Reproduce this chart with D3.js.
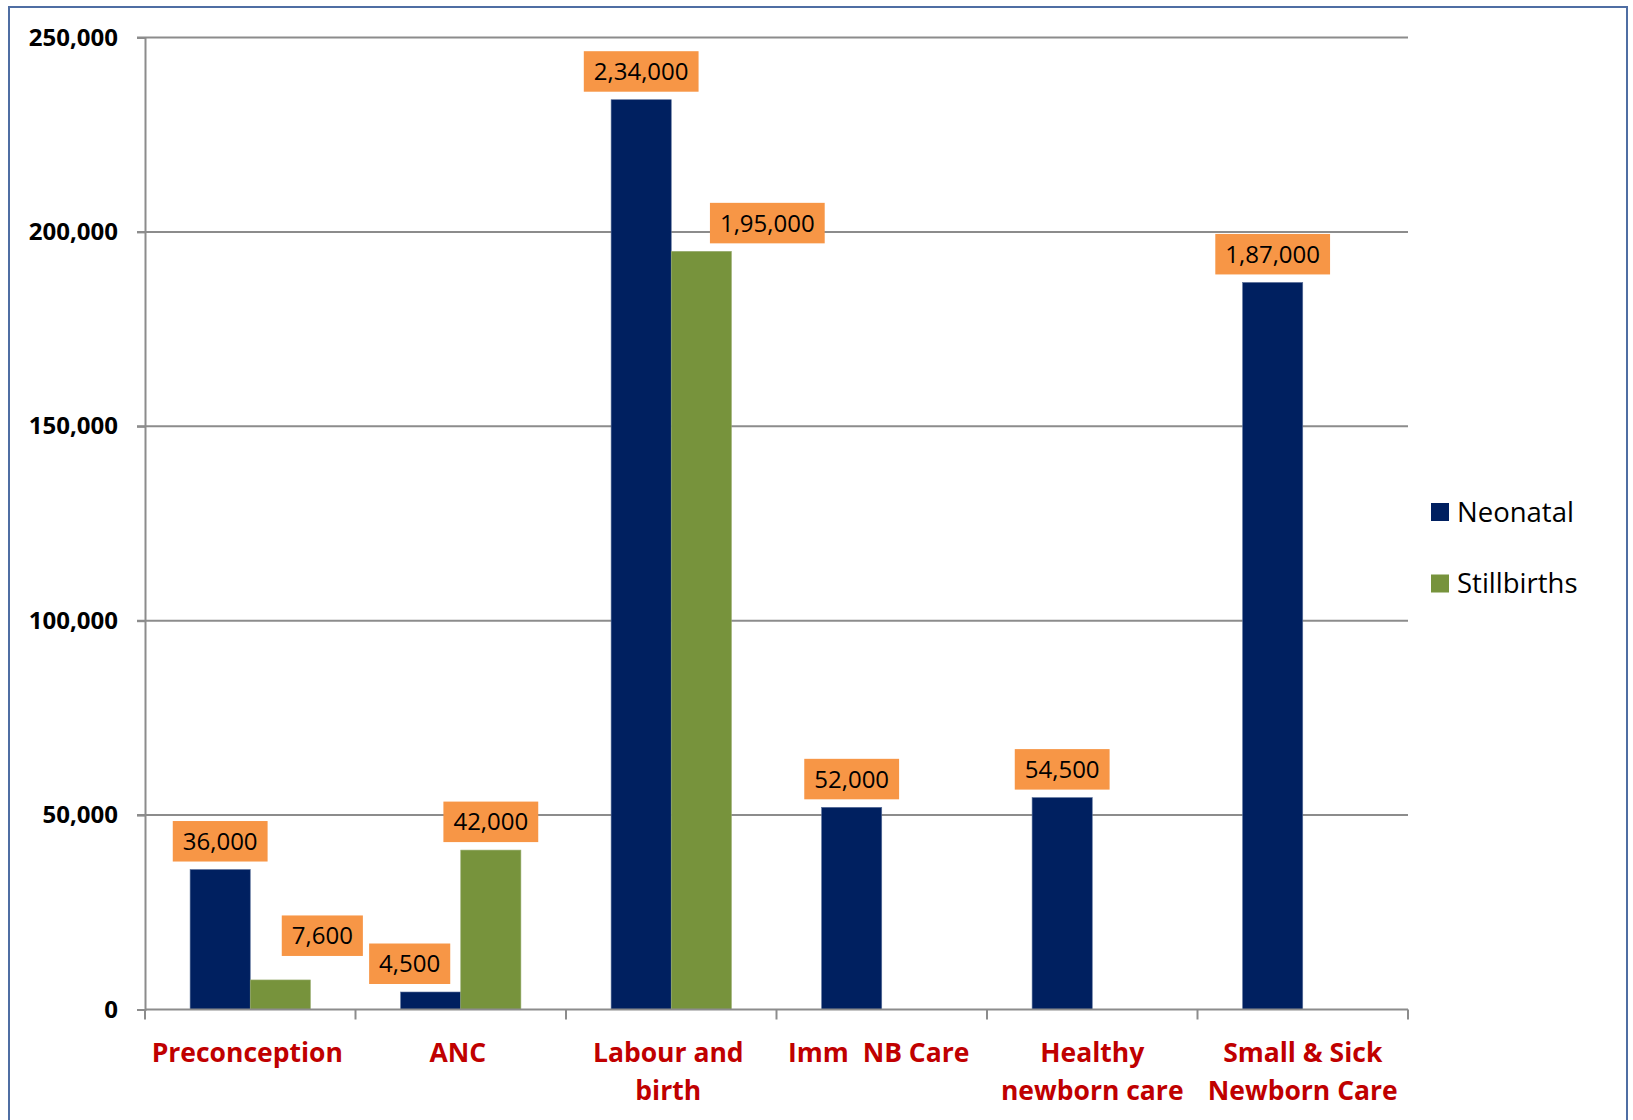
<!DOCTYPE html>
<html>
<head>
<meta charset="utf-8">
<script src="https://cdn.jsdelivr.net/npm/d3@7"></script>
<style>
  html, body { margin: 0; padding: 0; background: #fff; }
  svg { display: block; }
  text { font-family: "Open Sans", "Noto Sans", sans-serif; }
</style>
</head>
<body>
<svg id="chart" width="1633" height="1120"></svg>
<script>
// ---- data ----
const categories = ["Preconception", "ANC", "Labour and birth", "Imm  NB Care", "Healthy newborn care", "Small & Sick Newborn Care"];
const categoryLines = [["Preconception"], ["ANC"], ["Labour and", "birth"], ["Imm  NB Care"], ["Healthy", "newborn care"], ["Small & Sick", "Newborn Care"]];
const seriesNames = ["Neonatal", "Stillbirths"];
const neonatal = [36000, 4500, 234000, 52000, 54500, 187000];
const stillbirths = [7600, 41000, 195000, null, null, null];
const neonatalLabels = ["36,000", "4,500", "2,34,000", "52,000", "54,500", "1,87,000"];
const stillbirthLabels = ["7,600", "42,000", "1,95,000", null, null, null];
const yTicks = [0, 50000, 100000, 150000, 200000, 250000];
// manual nudges of the label boxes (px), as in the original
const neonatalLabelNudge = [[0, 0], [-21, 0], [0, 0], [0, 0], [0, 0], [0, 0]];
const stillbirthLabelNudge = [[42, -16], [0, 0], [66, 0], [0, 0], [0, 0], [0, 0]];

const colors = { Neonatal: "#002060", Stillbirths: "#77933C" };

const svg = d3.select("#chart");

// outer border
svg.append("rect").attr("x", 9).attr("y", 7).attr("width", 1618).attr("height", 1130)
  .attr("fill", "none").attr("stroke", "#4F6EA3").attr("stroke-width", 2);

const plot = { left: 145, right: 1408, top: 37.5, bottom: 1009.5 };

const x = d3.scaleBand().domain(categories).range([plot.left, plot.right]).paddingInner(0).paddingOuter(0);
const x1 = d3.scaleBand().domain(seriesNames).range([0, x.bandwidth()]).paddingInner(0).paddingOuter(0.75);
const y = d3.scaleLinear().domain([0, 250000]).range([plot.bottom, plot.top]);

const gridColor = "#8C8C8C";

// gridlines
svg.append("g").selectAll("line").data(yTicks.filter(d => d > 0)).join("line")
  .attr("x1", plot.left - 8).attr("x2", plot.right)
  .attr("y1", d => y(d)).attr("y2", d => y(d))
  .attr("stroke", gridColor).attr("stroke-width", 2);

// y axis
const yAxis = d3.axisLeft(y).tickValues(yTicks).tickFormat(d3.format(",")).tickSize(8).tickPadding(19);
const gy = svg.append("g").attr("transform", `translate(${plot.left},0)`).call(yAxis);
gy.select(".domain").attr("stroke", gridColor).attr("stroke-width", 2);
gy.selectAll(".tick line").attr("stroke", gridColor).attr("stroke-width", 2);
gy.selectAll(".tick text").attr("font-family", "'Open Sans', sans-serif").attr("font-size", 24)
  .attr("font-weight", 700).attr("fill", "#000");

// bars
const rows = categories.map((c, i) => ({
  cat: c,
  vals: [
    { s: "Neonatal", v: neonatal[i], label: neonatalLabels[i], nudge: neonatalLabelNudge[i] },
    { s: "Stillbirths", v: stillbirths[i], label: stillbirthLabels[i], nudge: stillbirthLabelNudge[i] }
  ].filter(d => d.v != null)
}));

const groups = svg.append("g").selectAll("g").data(rows).join("g")
  .attr("transform", d => `translate(${x(d.cat)},0)`);

groups.selectAll("rect").data(d => d.vals).join("rect")
  .attr("x", d => x1(d.s)).attr("width", x1.bandwidth())
  .attr("y", d => y(d.v)).attr("height", d => y(0) - y(d.v))
  .attr("fill", d => colors[d.s])
  .attr("stroke", d => d.s === "Neonatal" ? "#5a6f99" : "#97ab6e").attr("stroke-width", 0.6);

// x axis
const xAxisG = svg.append("g");
xAxisG.append("line").attr("x1", plot.left).attr("x2", plot.right)
  .attr("y1", y(0)).attr("y2", y(0)).attr("stroke", gridColor).attr("stroke-width", 2);
const tickXs = categories.map(c => x(c)).concat([x(categories[categories.length - 1]) + x.bandwidth()]);
xAxisG.selectAll("line.tk").data(tickXs).join("line").attr("class", "tk")
  .attr("x1", d => d).attr("x2", d => d).attr("y1", y(0)).attr("y2", y(0) + 10)
  .attr("stroke", gridColor).attr("stroke-width", 2);

// category labels
const catG = svg.append("g");
categories.forEach((c, i) => {
  const cx = x(c) + x.bandwidth() / 2 - (i < 4 ? 3 : 0);
  const t = catG.append("text")
    .attr("x", cx).attr("y", 1062)
    .attr("text-anchor", "middle").attr("font-size", 26.5).attr("font-weight", 700)
    .attr("fill", "#C00000").style("white-space", "pre");
  categoryLines[i].forEach((ln, j) => {
    t.append("tspan").attr("x", cx).attr("dy", j === 0 ? 0 : 38).text(ln);
  });
});

// data labels (orange boxes)
const labG = svg.append("g");
rows.forEach(r => {
  r.vals.forEach(d => {
    if (!d.label) return;
    const cx = x(r.cat) + x1(d.s) + x1.bandwidth() / 2 + d.nudge[0];
    const boxBottom = y(d.v) - 8 + d.nudge[1];
    const boxH = 40.5;
    const g = labG.append("g");
    const rect = g.append("rect").attr("fill", "#F79646");
    const t = g.append("text").attr("x", cx).attr("y", boxBottom - boxH / 2 + 8.5)
      .attr("text-anchor", "middle").attr("font-size", 24).attr("fill", "#000").text(d.label);
    const w = t.node().getComputedTextLength() + 20;
    rect.attr("x", cx - w / 2).attr("y", boxBottom - boxH).attr("width", w).attr("height", boxH);
  });
});

// legend
const leg = svg.append("g");
seriesNames.forEach((s, i) => {
  const yc = 512 + i * 71.5;
  leg.append("rect").attr("x", 1431).attr("y", yc - 9).attr("width", 18).attr("height", 18).attr("fill", colors[s]);
  leg.append("text").attr("x", 1457).attr("y", yc + 9.5).attr("font-size", 27.5).attr("fill", "#000").text(s);
});
</script>
</body>
</html>
